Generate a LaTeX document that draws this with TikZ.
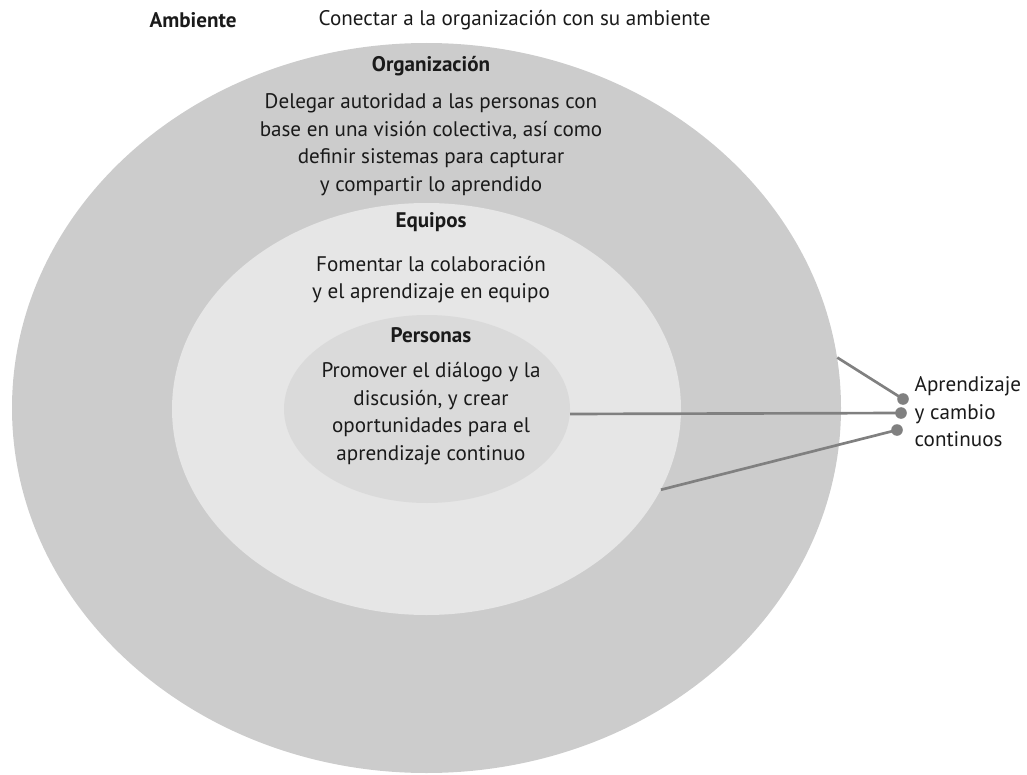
\documentclass[tikz,border=0pt]{standalone}
\usepackage{fontspec}
\setmainfont{PT Sans}
\usetikzlibrary{positioning,shapes.geometric}

\definecolor{ringouter}{HTML}{CCCCCC}
\definecolor{ringmid}{HTML}{E6E6E6}
\definecolor{ringinner}{HTML}{DADADA}
\definecolor{linkgray}{HTML}{808080}
\definecolor{inkdark}{HTML}{1A1A1A}

\begin{document}
\begin{tikzpicture}[
    x=0.025cm, y=-0.025cm,
    every node/.style={font=\fontsize{15}{19.6}\selectfont, text=inkdark},
    ring/.style={ellipse, inner sep=0pt, draw=none},
    title/.style={font=\fontsize{15}{19.6}\selectfont\bfseries, inner sep=1pt},
    desc/.style={align=center, inner sep=1pt},
    link/.style={draw=linkgray, line width=1.9pt},
    dot/.style={circle, fill=linkgray, inner sep=0pt, minimum size=0.29cm}
]
\useasboundingbox (0,0) rectangle (1027,775);
% nested rings
\node[ring, fill=ringouter, minimum width=829*0.025cm, minimum height=730*0.025cm] (outer) at (426.5,408) {};
\node[ring, fill=ringmid, minimum width=509*0.025cm, minimum height=412*0.025cm] (middle) at (426.5,409) {};
\node[ring, fill=ringinner, minimum width=286*0.025cm, minimum height=188*0.025cm] (inner) at (427,409) {};

% texts
\node[title, anchor=west] (ambiente) at (148,20) {Ambiente};
\node[desc, anchor=west] (ambientetext) at (317,20) {Conectar a la organización con su ambiente};
\node[title] (orgtitle) at (431,66) {Organización};
\node[desc] (orgtext) at (431,144.5) {Delegar autoridad a las personas con\\base en una visión colectiva, así como\\definir sistemas para capturar\\y compartir lo aprendido};
\node[title] (eqtitle) at (431,222) {Equipos};
\node[desc] (eqtext) at (431,279.5) {Fomentar la colaboración\\y el aprendizaje en equipo};
\node[title] (pertitle) at (431,335) {Personas};
\node[desc] (pertext) at (431,413.5) {Promover el diálogo y la\\discusión, y crear\\oportunidades para el\\aprendizaje continuo};

% connectors
\node[dot] (dotA) at (903,399) {};
\node[dot] (dotB) at (901,413) {};
\node[dot] (dotC) at (897,430) {};
\node[desc, align=left, anchor=west] (learning) at (913,412) {Aprendizaje\\y cambio\\continuos};
\draw[link] (outer.7) -- (dotA.center);
\draw[link] (inner.-2) -- (dotB.center);
\draw[link] (middle.-19) -- (dotC.center);
\end{tikzpicture}
\end{document}
